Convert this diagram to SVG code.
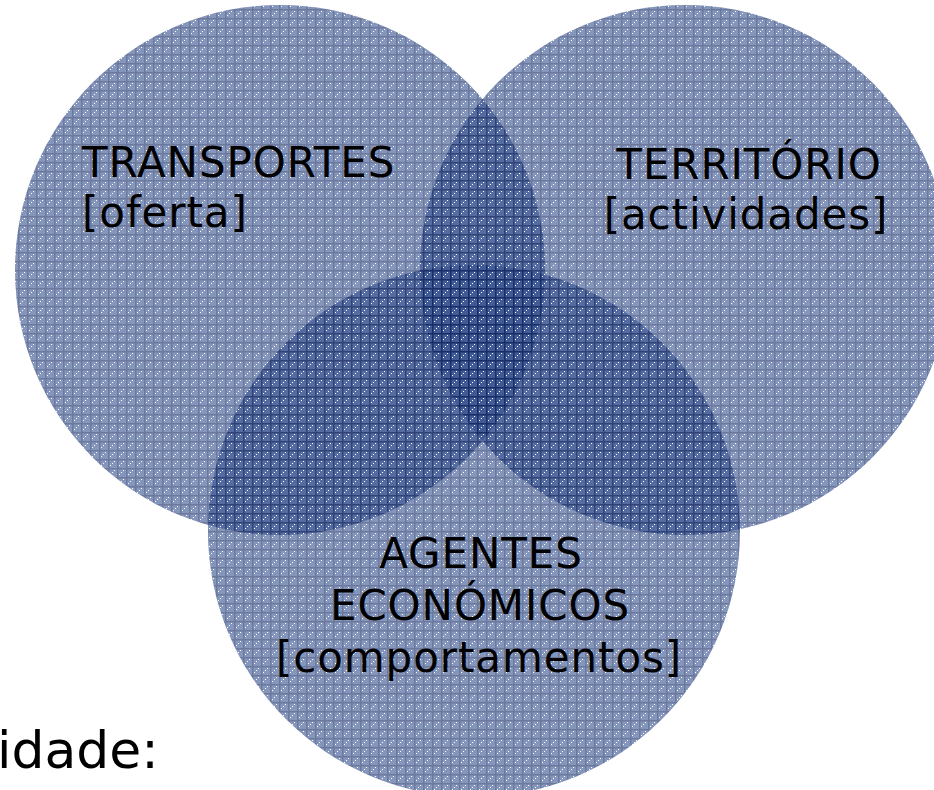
<svg xmlns="http://www.w3.org/2000/svg" width="934" height="790" viewBox="0 0 934 790">
<defs>
<pattern id="grid" width="9" height="9" patternUnits="userSpaceOnUse">
<rect width="9" height="9" fill="#33508f"/>
<rect x="0" y="0" width="9" height="1.5" fill="#0a1f5c"/>
<rect x="0" y="0" width="1.5" height="9" fill="#0a1f5c"/>
<rect x="4" y="4" width="1" height="1" fill="#ffffff"/>
<rect x="6" y="2" width="1" height="1" fill="#ffffff"/>
<rect x="2" y="6" width="1" height="1" fill="#ffffff"/>
</pattern>
</defs>
<style>
.c{fill:url(#grid);opacity:0.6}
.t{font-family:"DejaVu Sans",Verdana,sans-serif;font-size:42px;letter-spacing:0.9px;fill:#000}
</style>
<rect width="934" height="790" fill="#ffffff"/>
<text x="-3" y="768" style="font-family:'DejaVu Sans',Verdana,sans-serif;font-size:52px;fill:#000">idade:</text>
<g id="transportes"><circle class="c" cx="280" cy="270" r="265"/></g>
<g id="territorio"><circle class="c" cx="685" cy="270" r="265"/></g>
<g id="agentes"><circle class="c" cx="474" cy="531" r="266"/></g>
<g id="labels">
<text class="t" x="82" y="177">TRANSPORTES</text>
<text class="t" x="82" y="227">[oferta]</text>
<text class="t" x="749" y="179" text-anchor="middle">TERRITÓRIO</text>
<text class="t" x="746" y="229" text-anchor="middle">[actividades]</text>
<text class="t" x="481" y="568" text-anchor="middle">AGENTES</text>
<text class="t" x="480" y="620" text-anchor="middle">ECONÓMICOS</text>
<text class="t" x="479" y="672" text-anchor="middle">[comportamentos]</text>
</g>
<g id="connectors"/>
</svg>
